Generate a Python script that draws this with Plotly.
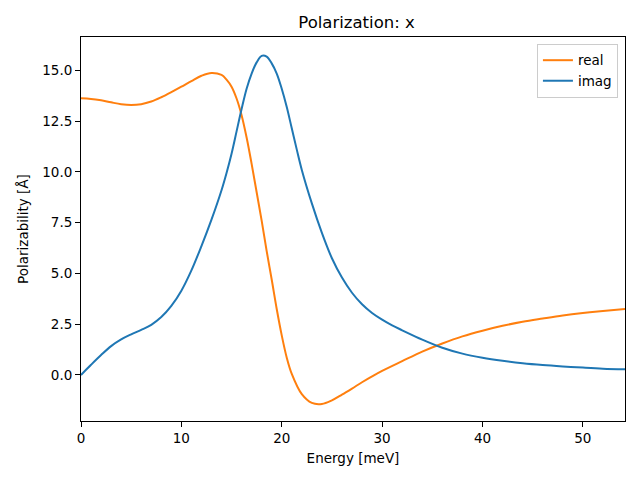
import plotly.graph_objects as go

energy_real = [0, 1, 2, 3, 4, 5, 6, 7, 8, 9, 10, 11, 12, 13, 14, 14.5, 15, 15.5, 16,
               16.5, 17, 17.5, 18, 18.5, 19, 19.5, 20, 20.5, 21, 22, 23, 24, 25, 26, 27,
               28, 29, 30, 32, 34, 36, 38, 40, 42, 44, 46, 48, 50, 52, 54.2]
real = [13.63, 13.6, 13.53, 13.43, 13.34, 13.3, 13.34, 13.47, 13.68, 13.93, 14.2,
        14.48, 14.74, 14.88, 14.78, 14.55, 14.2, 13.62, 12.8, 11.7, 10.4, 9.0, 7.6,
        6.1, 4.7, 3.25, 1.95, 0.85, 0.05, -0.95, -1.38, -1.43, -1.25, -0.97, -0.67,
        -0.36, -0.07, 0.2, 0.68, 1.15, 1.55, 1.9, 2.18, 2.42, 2.62, 2.78, 2.93, 3.05,
        3.15, 3.25]
energy_imag = [0, 1, 2, 3, 4, 5, 6, 7, 8, 9, 10, 11, 12, 13, 14, 14.5, 15, 15.5, 16,
               16.5, 17, 17.5, 18, 18.5, 19, 19.5, 20, 20.5, 21, 21.5, 22, 23, 24, 25,
               26, 27, 28, 29, 30, 31, 32, 34, 36, 38, 40, 42, 44, 46, 48, 50, 52, 54.2]
imag = [0.0, 0.5, 0.98, 1.42, 1.75, 2.0, 2.22, 2.47, 2.85, 3.4, 4.15, 5.15, 6.35,
        7.65, 9.1, 9.95, 10.9, 12.0, 13.1, 14.1, 14.85, 15.4, 15.72, 15.68, 15.35,
        14.85, 14.1, 13.2, 12.15, 11.1, 10.1, 8.45, 7.0, 5.75, 4.8, 4.05, 3.48, 3.05,
        2.72, 2.44, 2.2, 1.74, 1.34, 1.05, 0.85, 0.7, 0.58, 0.49, 0.42, 0.36, 0.31,
        0.28]
x_ticks = [0, 10, 20, 30, 40, 50]
y_ticks = [0.0, 2.5, 5.0, 7.5, 10.0, 12.5, 15.0]

fig = go.Figure()
fig.add_trace(go.Scatter(x=energy_real, y=real, mode="lines", name="real",
                         line=dict(color="#ff7f0e", width=2, shape="spline", smoothing=1.0)))
fig.add_trace(go.Scatter(x=energy_imag, y=imag, mode="lines", name="imag",
                         line=dict(color="#1f77b4", width=2, shape="spline", smoothing=1.0)))

axis_common = dict(showline=True, linecolor="black", linewidth=1, mirror=True,
                   ticks="outside", ticklen=5, tickwidth=1, tickcolor="black",
                   showgrid=False, zeroline=False, automargin=False,
                   tickfont=dict(family="DejaVu Sans", size=13.5, color="black"))

fig.update_layout(
    width=632, height=472,
    margin=dict(l=73, r=15, t=29, b=59),
    paper_bgcolor="white", plot_bgcolor="white",
    title=dict(text="Polarization: x", x=0.5515, xanchor="center", y=0.970, yanchor="middle",
               font=dict(family="DejaVu Sans", size=16.5, color="black")),
    xaxis=dict(range=[0, 54.2], tickvals=x_ticks, ticktext=[str(t) for t in x_ticks],
               title=dict(text="Energy [meV]", standoff=8,
                          font=dict(family="DejaVu Sans", size=13.5, color="black")),
               **axis_common),
    yaxis=dict(range=[-2.27, 16.65], tickvals=y_ticks, ticktext=[f"{t:.1f}" for t in y_ticks],
               title=dict(text="Polarizability [Å]", standoff=10,
                          font=dict(family="DejaVu Sans", size=13.5, color="black")),
               **axis_common),
    legend=dict(x=0.987, y=0.982, xanchor="right", yanchor="top",
                bgcolor="rgba(255,255,255,0.8)", bordercolor="#cccccc", borderwidth=1,
                font=dict(family="DejaVu Sans", size=13.5, color="black"),
                itemwidth=30, tracegroupgap=0),
    showlegend=True,
)

fig.write_html("out.html")
